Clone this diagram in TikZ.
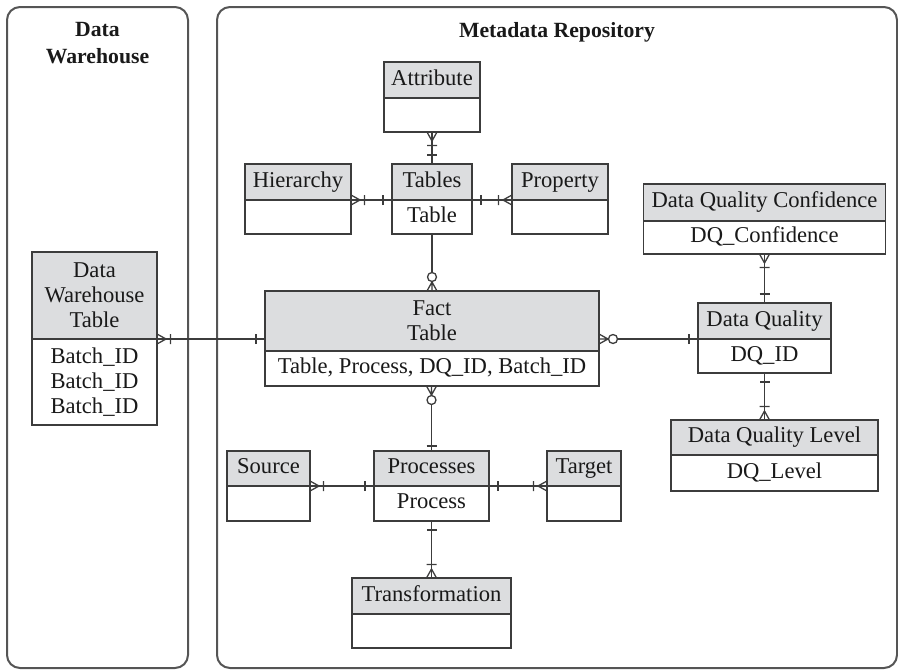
\documentclass[tikz,border=0pt]{standalone}
\usepackage{fontspec}
\setmainfont{Liberation Serif}
\usetikzlibrary{positioning,arrows.meta}

\definecolor{headc}{RGB}{220,221,223}
\definecolor{linec}{RGB}{60,60,60}
\definecolor{framec}{RGB}{85,85,85}
\definecolor{textc}{RGB}{25,25,25}

% relationship ends (crow's foot notation)
% one: a single bar
\pgfdeclarearrow{
  name = onebar,
  setup code = {
    \pgfarrowssettipend{0pt}
    \pgfarrowssetlineend{0pt}
    \pgfarrowssetbackend{-10pt}
    \pgfarrowshullpoint{0pt}{0pt}
    \pgfarrowsupperhullpoint{-10pt}{5pt}
  },
  drawing code = {
    \pgfpathmoveto{\pgfqpoint{-9pt}{-5pt}}
    \pgfpathlineto{\pgfqpoint{-9pt}{5pt}}
    \pgfusepathqstroke
  }
}
% one, bar closer to the box
\pgfdeclarearrow{
  name = nearbar,
  setup code = {
    \pgfarrowssettipend{0pt}
    \pgfarrowssetlineend{0pt}
    \pgfarrowssetbackend{-6pt}
    \pgfarrowshullpoint{0pt}{0pt}
    \pgfarrowsupperhullpoint{-6pt}{5pt}
  },
  drawing code = {
    \pgfpathmoveto{\pgfqpoint{-5pt}{-5pt}}
    \pgfpathlineto{\pgfqpoint{-5pt}{5pt}}
    \pgfusepathqstroke
  }
}
% one or many: crow's foot and bar
\pgfdeclarearrow{
  name = crowbar,
  setup code = {
    \pgfarrowssettipend{0pt}
    \pgfarrowssetlineend{0pt}
    \pgfarrowssetbackend{-14pt}
    \pgfarrowshullpoint{0pt}{0pt}
    \pgfarrowsupperhullpoint{-14pt}{5pt}
  },
  drawing code = {
    \pgfpathmoveto{\pgfqpoint{0pt}{5pt}}
    \pgfpathlineto{\pgfqpoint{-9pt}{0pt}}
    \pgfpathlineto{\pgfqpoint{0pt}{-5pt}}
    \pgfpathmoveto{\pgfqpoint{-13.5pt}{-5pt}}
    \pgfpathlineto{\pgfqpoint{-13.5pt}{5pt}}
    \pgfusepathqstroke
  }
}
% zero or many: crow's foot and ring
\pgfdeclarearrow{
  name = crowring,
  setup code = {
    \pgfarrowssettipend{0pt}
    \pgfarrowssetlineend{-18.5pt}
    \pgfarrowssetbackend{-18.5pt}
    \pgfarrowshullpoint{0pt}{0pt}
    \pgfarrowsupperhullpoint{-18.5pt}{5pt}
  },
  drawing code = {
    \pgfpathmoveto{\pgfqpoint{0pt}{5pt}}
    \pgfpathlineto{\pgfqpoint{-9pt}{0pt}}
    \pgfpathlineto{\pgfqpoint{0pt}{-5pt}}
    \pgfpathmoveto{\pgfqpoint{-9.5pt}{0pt}}
    \pgfpathlineto{\pgfqpoint{0pt}{0pt}}
    \pgfpathcircle{\pgfqpoint{-14pt}{0pt}}{4.5pt}
    \pgfusepathqstroke
  }
}

\tikzset{
  ent/.style={draw=linec, line width=1.3pt, outer sep=0pt, inner sep=2pt,
    text=textc, align=center, minimum width=#1},
  oneline/.style={text height=15pt, text depth=5pt},
  head/.style={ent=#1, fill=headc, minimum height=36pt, oneline},
  body/.style={ent=#1, fill=white, minimum height=34pt, oneline},
  rel/.style={draw=linec, line width=1.3pt},
  frame/.style={draw=framec, line width=2pt, rounded corners=13pt},
  title/.style={text=textc, font=\fontsize{21.7pt}{27pt}\selectfont\bfseries, align=center}
}

\begin{document}
\begin{tikzpicture}[x=1pt,y=1pt,yscale=-1,font=\fontsize{22.6pt}{25pt}\selectfont]
\useasboundingbox (0,0) rectangle (898,672);

% the two areas
\draw[frame] (7,7) rectangle (188,668);
\draw[frame] (217,7) rectangle (897,668);
\node[title] (dw-t) at (97.5,43.5) {Data\\Warehouse};
\node[title] (md-t) at (557,32) {Metadata Repository};

% warehouse table
\node[ent=125pt, fill=headc, minimum height=87pt, anchor=north] (dwt-h) at (94.5,252) {Data\\Warehouse\\Table};
\node[ent=125pt, fill=white, minimum height=86pt, below=0pt of dwt-h] (dwt-b) {Batch\_ID\\Batch\_ID\\Batch\_ID};

% tables group
\node[head=96pt, anchor=north] (attr-h) at (432,62) {Attribute};
\node[body=96pt, below=0pt of attr-h] (attr-b) {};
\node[head=80pt, anchor=north] (tabs-h) at (432,164) {Tables};
\node[body=80pt, below=0pt of tabs-h] (tabs-b) {Table};
\node[head=106pt, anchor=north] (hier-h) at (298,164) {Hierarchy};
\node[body=106pt, below=0pt of hier-h] (hier-b) {};
\node[head=96pt, anchor=north] (prop-h) at (560,164) {Property};
\node[body=96pt, below=0pt of prop-h] (prop-b) {};

% fact table
\node[ent=334pt, fill=headc, minimum height=60pt, anchor=north] (fact-h) at (432,291) {Fact\\Table};
\node[body=334pt, minimum height=35pt, below=0pt of fact-h] (fact-b) {Table, Process, DQ\_ID, Batch\_ID};

% data quality group
\node[head=242pt, minimum height=37pt, anchor=north] (dqc-h) at (764.5,184) {Data Quality Confidence};
\node[body=242pt, minimum height=33pt, below=0pt of dqc-h] (dqc-b) {DQ\_Confidence};
\node[head=133pt, anchor=north] (dq-h) at (764.5,303) {Data Quality};
\node[body=133pt, below=0pt of dq-h] (dq-b) {DQ\_ID};
\node[head=207pt, minimum height=35pt, anchor=north] (dql-h) at (774.5,420) {Data Quality Level};
\node[body=207pt, minimum height=36pt, below=0pt of dql-h] (dql-b) {DQ\_Level};

% processes group
\node[head=115pt, minimum height=35pt, anchor=north] (proc-h) at (431.5,451) {Processes};
\node[body=115pt, minimum height=35pt, below=0pt of proc-h] (proc-b) {Process};
\node[head=83pt, minimum height=35pt, anchor=north] (src-h) at (268.5,451) {Source};
\node[body=83pt, minimum height=35pt, below=0pt of src-h] (src-b) {};
\node[head=74pt, minimum height=35pt, anchor=north] (tgt-h) at (584,451) {Target};
\node[body=74pt, minimum height=35pt, below=0pt of tgt-h] (tgt-b) {};
\node[head=159pt, anchor=north] (trans-h) at (431.5,578) {Transformation};
\node[body=159pt, below=0pt of trans-h] (trans-b) {};

% relationships
\draw[rel, {crowbar[]}-{onebar[]}] (attr-b.south) -- (tabs-h.north);
\draw[rel, {crowbar[]}-{onebar[]}] (hier-h.south east) -- (tabs-h.south west);
\draw[rel, {onebar[]}-{crowbar[]}] (tabs-h.south east) -- (prop-h.south west);
\draw[rel, -{crowring[]}] (tabs-b.south) -- (fact-h.north);
\draw[rel, {crowbar[]}-{onebar[]}] (dwt-h.south east) -- (dwt-h.south east -| fact-h.west);
\draw[rel, {crowring[]}-{onebar[]}] (dq-h.south west -| fact-h.east) -- (dq-h.south west);
\draw[rel, {crowbar[]}-{onebar[]}] (dqc-b.south) -- (dq-h.north);
\draw[rel, {onebar[]}-{crowbar[]}] (dq-b.south) -- (dq-b.south |- dql-h.north);
\draw[rel, {crowring[]}-{nearbar[]}] (proc-h.north |- fact-b.south) -- (proc-h.north);
\draw[rel, {crowbar[]}-{onebar[]}] (src-h.south east) -- (proc-h.south west);
\draw[rel, {onebar[]}-{crowbar[]}] (proc-h.south east) -- (tgt-h.south west);
\draw[rel, {onebar[]}-{crowbar[]}] (proc-b.south) -- (trans-h.north);
\end{tikzpicture}
\end{document}
